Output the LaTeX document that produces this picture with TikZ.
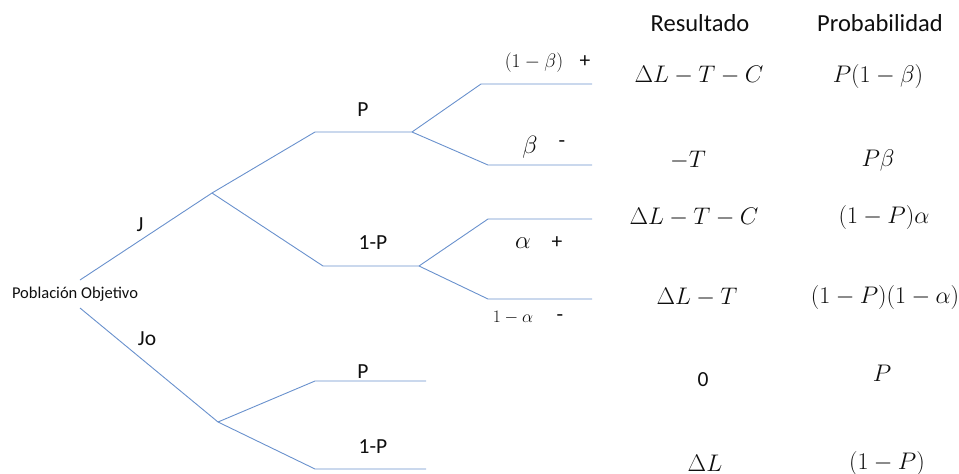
\RequirePackage{fix-cm}
\documentclass[tikz,border=0pt]{standalone}
\usepackage{fontspec}
\setmainfont{Carlito}
\definecolor{treeblue}{RGB}{105,145,205}
\definecolor{txt}{RGB}{15,15,15}
\tikzset{
  br/.style={draw=treeblue, line width=0.9pt},
  lbl/.style={inner sep=0pt, text=txt, font=\fontsize{21.5}{25}\selectfont},
  hdr/.style={inner sep=0pt, text=txt, font=\fontsize{24.5}{29}\selectfont},
  rootlbl/.style={inner sep=0pt, text=txt, font=\fontsize{16.5}{20}\selectfont},
  mth/.style={inner sep=0pt, text=txt, font=\fontsize{24}{28}\selectfont},
  bigmth/.style={inner sep=0pt, text=txt, font=\fontsize{25}{29}\selectfont},
  smth/.style={inner sep=0pt, text=txt, font=\fontsize{19.5}{23}\selectfont},
  xsmth/.style={inner sep=0pt, text=txt, font=\fontsize{17.5}{21}\selectfont},
}
\begin{document}
\begin{tikzpicture}[x=1pt,y=-1pt]
\useasboundingbox (0,0) rectangle (959,474);
% tree points
\coordinate (rj) at (80,280);
\coordinate (rjo) at (80,308);
\coordinate (a) at (212,193);
\coordinate (b1) at (315,132); \coordinate (b2) at (412,132);
\coordinate (c1) at (323,266); \coordinate (c2) at (419,266);
\coordinate (d1) at (481,84);  \coordinate (d2) at (592,84);
\coordinate (e1) at (488,165); \coordinate (e2) at (592,165);
\coordinate (f1) at (488,219); \coordinate (f2) at (592,219);
\coordinate (g1) at (488,299); \coordinate (g2) at (592,299);
\coordinate (h) at (218,422);
\coordinate (i1) at (315,381); \coordinate (i2) at (426,381);
\coordinate (k1) at (315,469); \coordinate (k2) at (426,469);
% branches
\draw[br] (rj) -- (a);
\draw[br] (a) -- (b1) -- (b2);
\draw[br] (a) -- (c1) -- (c2);
\draw[br] (b2) -- (d1) -- (d2);
\draw[br] (b2) -- (e1) -- (e2);
\draw[br] (c2) -- (f1) -- (f2);
\draw[br] (c2) -- (g1) -- (g2);
\draw[br] (rjo) -- (h);
\draw[br] (h) -- (i1) -- (i2);
\draw[br] (h) -- (k1) -- (k2);
% labels
\node[rootlbl] (root) at (75,294) {Población Objetivo};
\node[lbl] (lJ) at (140,225) {J};
\node[lbl] (lJo) at (147,339) {Jo};
\node[lbl] (lP1) at (363,110) {P};
\node[lbl] (lQ1) at (373,243) {1-P};
\node[lbl] (lP2) at (363,372) {P};
\node[lbl] (lQ2) at (373,447) {1-P};
\node[smth] (lb1) at (534,63) {$(1-\beta)$};
\node[lbl] (sb1) at (585,62) {+};
\node[bigmth] (lb2) at (530,147) {$\beta$};
\node[lbl] (sb2) at (562,144) {-};
\node[bigmth] (la1) at (523,243) {$\alpha$};
\node[lbl] (sa1) at (557,243) {+};
\node[xsmth] (la2) at (513,318) {$1-\alpha$};
\node[lbl] (sa2) at (560,318) {-};
% headers
\node[hdr] (hR) at (700,23) {Resultado};
\node[hdr] (hP) at (880,23) {Probabilidad};
% results
\node[mth] (r1) at (699,75) {$\Delta L-T-C$};
\node[mth] (p1) at (878,76) {$P(1-\beta)$};
\node[mth] (r2) at (688,160) {$-T$};
\node[mth] (p2) at (878,160) {$P\beta$};
\node[mth] (r3) at (694,217) {$\Delta L-T-C$};
\node[mth] (p3) at (884,217) {$(1-P)\alpha$};
\node[mth] (r4) at (697,297) {$\Delta L-T$};
\node[mth] (p4) at (885,297) {$(1-P)(1-\alpha)$};
\node[lbl] (r5) at (703,380) {0};
\node[mth] (p5) at (882,373) {$P$};
\node[mth] (r6) at (705,463) {$\Delta L$};
\node[mth] (p6) at (887,463) {$(1-P)$};
\end{tikzpicture}
\end{document}
